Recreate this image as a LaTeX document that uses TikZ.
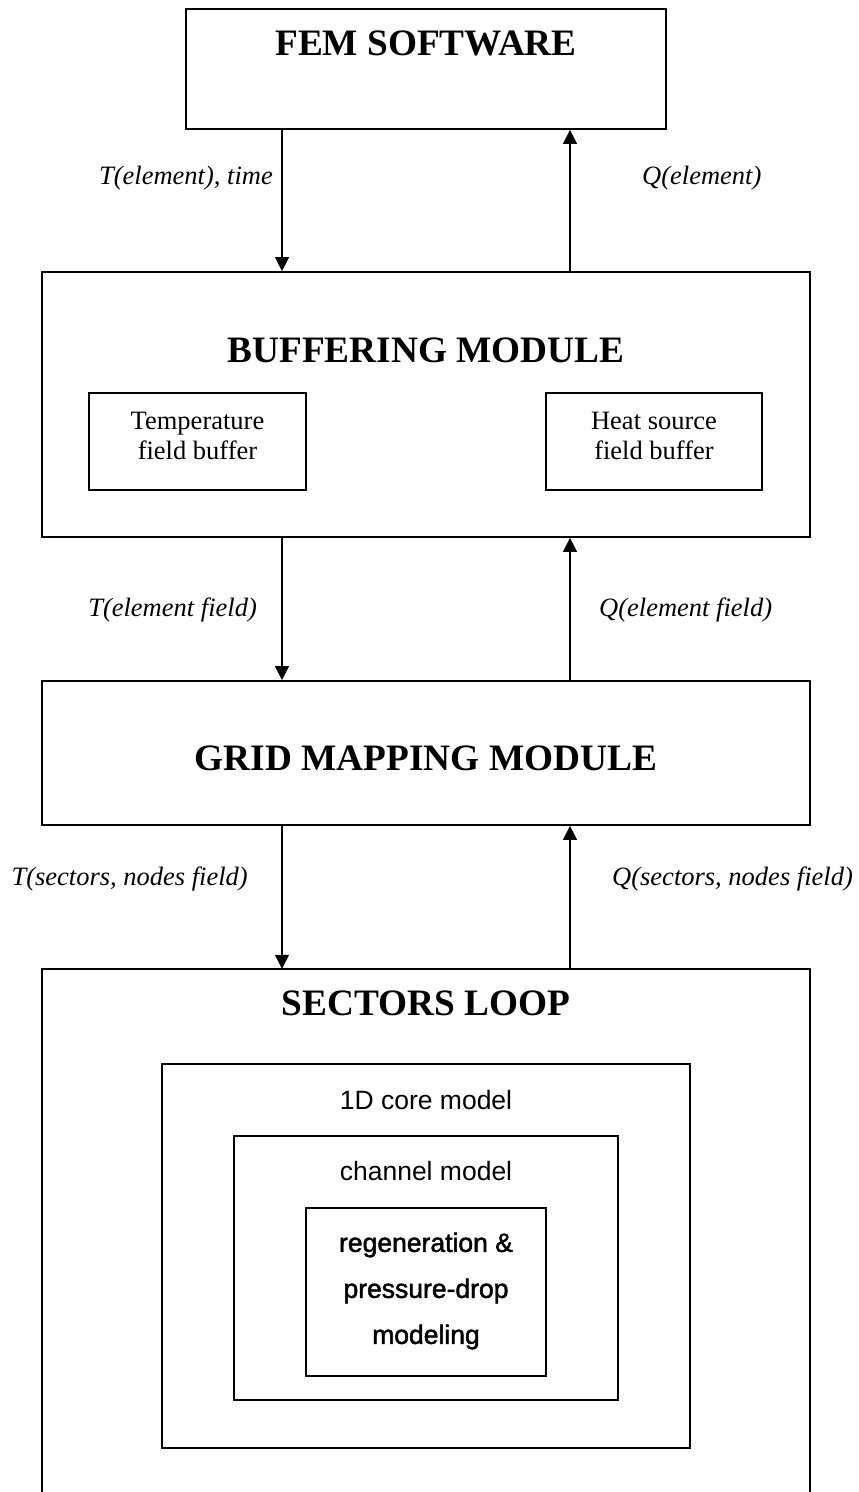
\documentclass[tikz,border=0pt]{standalone}
\usepackage{fontspec}
\setmainfont{Liberation Serif}
\newfontfamily\arialfont{Liberation Sans}
\newfontfamily\arialheavy[FakeBold=1.8]{Liberation Sans}
\usetikzlibrary{arrows.meta}
\begin{document}
\begin{tikzpicture}[x=1pt,y=-1pt,
  box/.style={draw,line width=1.7pt,inner sep=0pt,minimum width=#1},
  title/.style={font=\fontsize{37.3}{40}\selectfont\bfseries,inner sep=0pt},
  txt/.style={font=\fontsize{26.5}{30}\selectfont,align=center,inner sep=0pt},
  lbl/.style={font=\fontsize{26.5}{30}\selectfont\itshape,inner sep=0pt},
  sans/.style={font=\fontsize{26.5}{30}\selectfont\arialfont,inner sep=0pt},
  arr/.style={line width=1.3pt,-{Triangle[length=14pt,width=14pt]}}]
\useasboundingbox (0,0) rectangle (859,1492);
% main boxes
\node[box=480, minimum height=120] (fem) at (426,69) {};
\node[title] (femT) at (426,43) {FEM SOFTWARE};
\node[box=768, minimum height=265] (buf) at (426,404.5) {};
\node[title] (bufT) at (426,350) {BUFFERING MODULE};
\node[box=217, minimum height=97] (tbuf) at (197.5,441.5) {};
\node[txt] (tbufT) at (197.5,436) {Temperature\\field buffer};
\node[box=216, minimum height=97] (hbuf) at (654,441.5) {};
\node[txt] (hbufT) at (654,436) {Heat source\\field buffer};
\node[box=768, minimum height=144] (grid) at (426,753) {};
\node[title] (gridT) at (426,758) {GRID MAPPING MODULE};
% sectors loop (bottom edge outside the picture)
\node[inner sep=0pt,minimum width=768,minimum height=540] (sec) at (426,1239) {};
\draw[line width=1.7pt] (sec.south west) -- (sec.north west) -- (sec.north east) -- (sec.south east);
\node[title] (secT) at (426,1003) {SECTORS LOOP};
\node[box=528, minimum height=384] (core) at (426,1256) {};
\node[sans] (coreT) at (426,1100) {1D core model};
\node[box=384, minimum height=264] (chan) at (426,1268) {};
\node[sans] (chanT) at (426,1171) {channel model};
\node[box=240, minimum height=168] (reg) at (426,1292) {};
\node[font=\fontsize{26.5}{46}\selectfont\arialheavy,align=center,inner sep=0pt] (regT) at (426,1291) {regeneration \&\\pressure-drop\\modeling};
% connector columns
\coordinate (dn) at (282,0);
\coordinate (up) at (570,0);
\draw[arr] (fem.south -| dn) -- (buf.north -| dn);
\draw[arr] (buf.north -| up) -- (fem.south -| up);
\draw[arr] (buf.south -| dn) -- (grid.north -| dn);
\draw[arr] (grid.north -| up) -- (buf.south -| up);
\draw[arr] (grid.south -| dn) -- (sec.north -| dn);
\draw[arr] (sec.north -| up) -- (grid.south -| up);
% labels
\node[lbl,anchor=east] (l1) at (273,178) {T(element), time};
\node[lbl,anchor=west] (l2) at (642,178) {Q(element)};
\node[lbl,anchor=east] (l3) at (257,610) {T(element field)};
\node[lbl,anchor=west] (l4) at (599,610) {Q(element field)};
\node[lbl,anchor=east] (l5) at (248,879) {T(sectors, nodes field)};
\node[lbl,anchor=west] (l6) at (612,879) {Q(sectors, nodes field)};
\end{tikzpicture}
\end{document}
